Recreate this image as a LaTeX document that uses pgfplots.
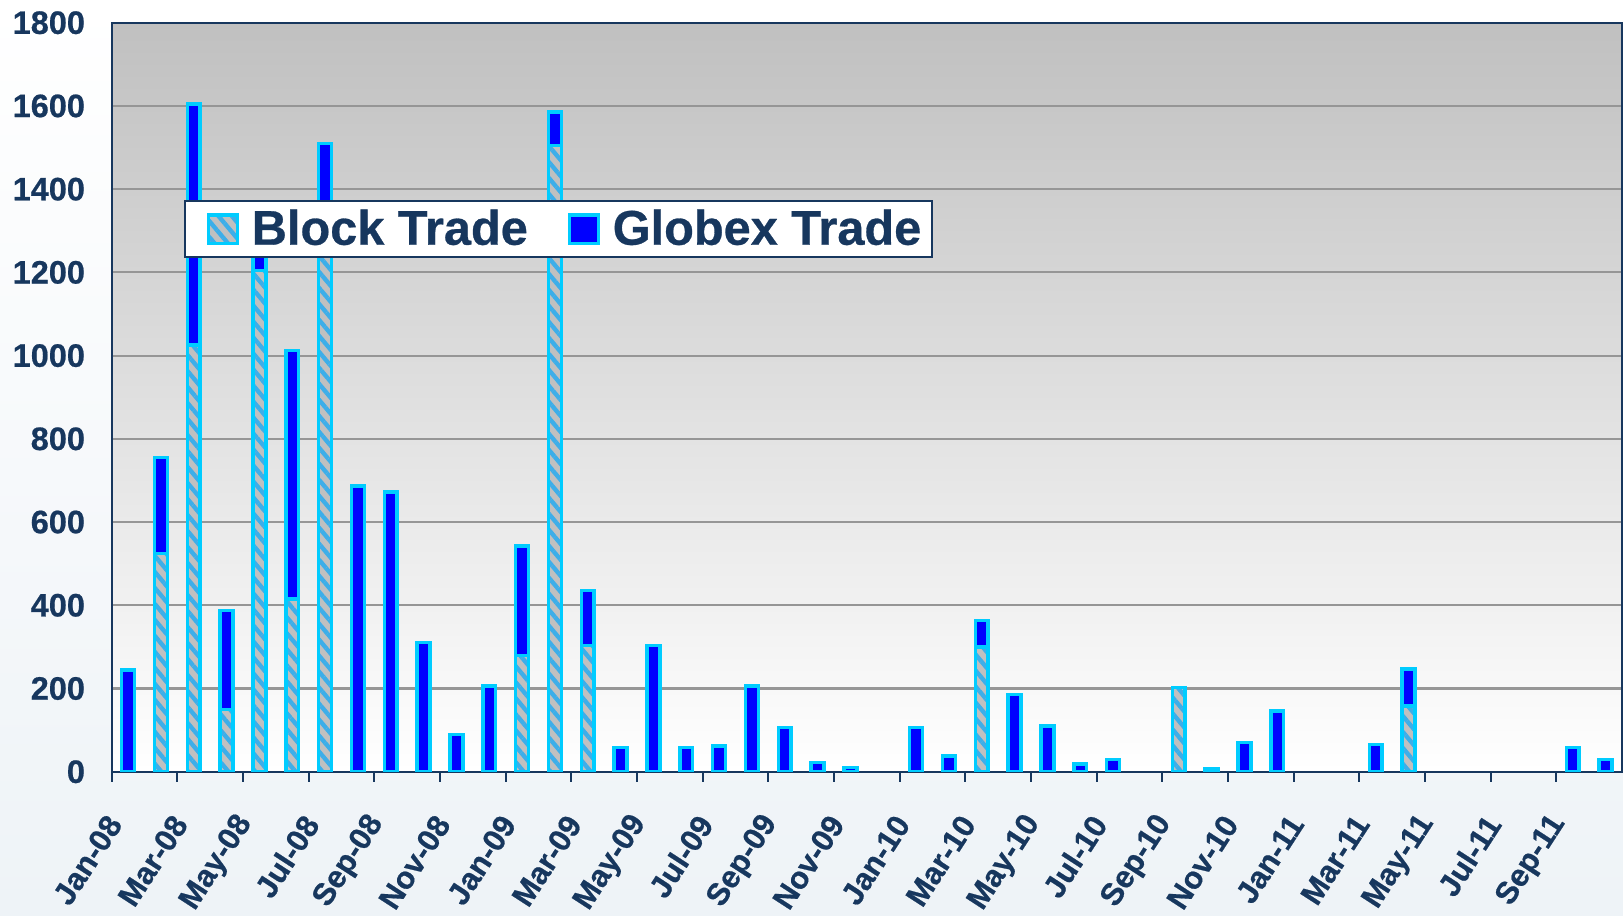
\documentclass[border=0pt]{standalone}
\usepackage{pgfplots}
\pgfplotsset{compat=1.18}
\usepackage{pgfplotstable}
\usepackage{fontspec}
\setmainfont{Liberation Sans}
\newfontfamily\heavy{Liberation Sans}[BoldFeatures={FakeBold=0.6}]
\usetikzlibrary{patterns.meta}
\definecolor{navy}{HTML}{17375E}
\definecolor{barblue}{HTML}{0000FF}
\definecolor{barcyan}{HTML}{00CCFF}
\definecolor{stripe}{HTML}{3DAEE9}
\definecolor{hatchgray}{HTML}{C0C0C0}
\definecolor{gridgray}{HTML}{969696}
\definecolor{bgbottom}{HTML}{EEF3F7}

% month index (bar centre), Block Trade + Globex Trade (top of stack)
\pgfplotstableread{
x total
0.5 245
1.5 755
2.5 1605
3.5 387
4.5 1260
5.5 1012
6.5 1510
7.5 687
8.5 672
9.5 311
10.5 90
11.5 206
12.5 542
13.5 1585
14.5 435
15.5 58
16.5 303
17.5 58
18.5 62
19.5 206
20.5 106
21.5 22
22.5 10
24.5 106
25.5 38
26.5 363
27.5 186
28.5 110
29.5 18
30.5 30
33.5 6
34.5 70
35.5 146
38.5 66
39.5 247
44.5 58
45.5 30
}\totaltable

% Block Trade
\pgfplotstableread{
x block
1.5 525
2.5 1025
3.5 150
4.5 1205
5.5 415
6.5 1300
12.5 279
13.5 1505
14.5 303
26.5 300
32.5 202
39.5 158
}\blocktable

\tikzset{
  globexstyle/.style={draw=barcyan, line width=1.3pt, fill=barblue},
  blockstyle/.style={draw=barcyan, line width=1.3pt, preaction={fill=hatchgray},
    pattern={Lines[angle=-50,distance=3.8pt,line width=1.6pt]}, pattern color=stripe},
}

\begin{document}
\begin{tikzpicture}
\useasboundingbox (-41.3pt,-53pt) rectangle (558.7pt,285.3pt);
\fill[top color=white, bottom color=bgbottom] (-41.3pt,-53pt) rectangle (558.7pt,285.3pt);
\begin{axis}[
  at={(0pt,0pt)}, anchor=south west,
  scale only axis, width=558.3pt, height=276.9pt,
  xmin=0, xmax=46, ymin=0, ymax=1800,
  axis background/.style={top color=hatchgray, bottom color=white},
  xtick={0,2,...,44},
  xticklabels={Jan-08,Mar-08,May-08,Jul-08,Sep-08,Nov-08,Jan-09,Mar-09,May-09,Jul-09,Sep-09,Nov-09,Jan-10,Mar-10,May-10,Jul-10,Sep-10,Nov-10,Jan-11,Mar-11,May-11,Jul-11,Sep-11},
  ytick={0,200,...,1800},
  ymajorgrids, grid style={gridgray, line width=0.8pt},
  axis line style={navy, line width=0.8pt},
  xtick pos=left, tick align=outside, major tick length=3.7pt,
  xtick style={navy, line width=0.8pt},
  ytick style={draw=none},
  /pgf/number format/assume math mode=true,
  /pgf/number format/1000 sep={},
  yticklabel style={font=\heavy\fontsize{12}{14}\selectfont\bfseries, text=navy, inner sep=0pt, xshift=-6pt},
  xticklabel style={font=\heavy\fontsize{11.5}{14}\selectfont\bfseries, text=navy, inner sep=0pt, xshift=1.1pt, yshift=-13.5pt, rotate=57, anchor=east},
  legend image code/.code={\path (0pt,0pt); \draw[#1] (6.2pt,-5.3pt) rectangle (16.8pt,5.3pt);},
  legend style={at={(0.0478,0.763)}, anchor=north west, draw=navy, line width=0.8pt, fill=white,
    font=\color{navy}\heavy\fontsize{18}{20}\selectfont\bfseries,
    legend columns=2, inner xsep=1.9pt, inner ysep=1pt,
    nodes={inner xsep=2pt, inner ysep=2pt},
    /tikz/every odd column/.append style={column sep=2.7pt},
    /tikz/every even column/.append style={column sep=6.6pt}},
]
\addplot[ybar, bar width=0.39, bar shift=0pt, globexstyle, forget plot] table[x=x, y=total] {\totaltable};
\addplot[ybar, bar width=0.39, bar shift=0pt, blockstyle, forget plot] table[x=x, y=block] {\blocktable};
\addlegendimage{blockstyle}
\addlegendentry{Block Trade}
\addlegendimage{globexstyle}
\addlegendentry{Globex Trade}
\end{axis}
\end{tikzpicture}
\end{document}
